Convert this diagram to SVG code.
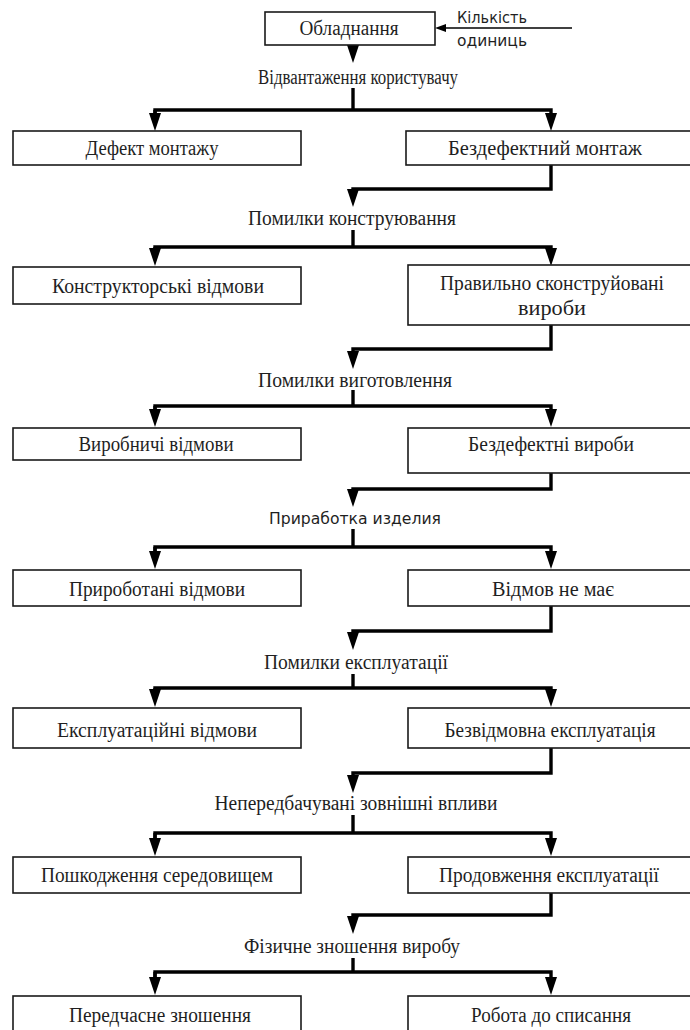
<svg xmlns="http://www.w3.org/2000/svg" width="690" height="1030" viewBox="0 0 690 1030">
<style>
.box{fill:#fff;stroke:#1a1a1a;stroke-width:1.6}
.t{font-family:"Liberation Serif","Times New Roman",serif;font-size:20.5px;fill:#1f1f1f;text-anchor:middle}
.s{font-family:"DejaVu Sans","Liberation Sans",sans-serif;font-size:15px;fill:#1f1f1f}
.c{fill:none;stroke:#000;stroke-width:3.4;stroke-linejoin:miter}
.thin{fill:none;stroke:#000;stroke-width:1.5}
</style>
<defs>
<marker id="ah" markerUnits="userSpaceOnUse" markerWidth="18" markerHeight="12" refX="8" refY="6" orient="auto">
<path d="M0,0 L18,6 L0,12 z" fill="#000"/>
</marker>
<marker id="ahs" markerUnits="userSpaceOnUse" markerWidth="11" markerHeight="8" refX="5" refY="4" orient="auto">
<path d="M0,0 L11,4 L0,8 z" fill="#000"/>
</marker>
</defs>
<rect width="690" height="1030" fill="#fff"/>

<g id="connectors">
<line class="thin" x1="572" y1="28" x2="441" y2="28" marker-end="url(#ahs)"/>
<line class="c" x1="353" y1="45" x2="353" y2="53" marker-end="url(#ah)"/>
<line class="c" x1="353" y1="88" x2="353" y2="110"/>
<polyline class="c" points="155,121 155,110 551,110 551,121" marker-end="url(#ah)"/>
<line class="c" x1="155" y1="110" x2="155" y2="121" marker-end="url(#ah)"/>
<polyline class="c" points="551,165 551,189 353,189 353,197" marker-end="url(#ah)"/>
<line class="c" x1="353" y1="230" x2="353" y2="247"/>
<polyline class="c" points="155,256 155,247 551,247 551,256" marker-end="url(#ah)"/>
<line class="c" x1="155" y1="247" x2="155" y2="256" marker-end="url(#ah)"/>
<polyline class="c" points="551,325 551,349 353,349 353,359" marker-end="url(#ah)"/>
<line class="c" x1="353" y1="390" x2="353" y2="406"/>
<polyline class="c" points="155,417 155,406 551,406 551,417" marker-end="url(#ah)"/>
<line class="c" x1="155" y1="406" x2="155" y2="417" marker-end="url(#ah)"/>
<polyline class="c" points="551,473 551,489 353,489 353,497" marker-end="url(#ah)"/>
<line class="c" x1="353" y1="529" x2="353" y2="547"/>
<polyline class="c" points="155,559 155,547 551,547 551,559" marker-end="url(#ah)"/>
<line class="c" x1="155" y1="547" x2="155" y2="559" marker-end="url(#ah)"/>
<polyline class="c" points="551,606 551,631 353,631 353,640" marker-end="url(#ah)"/>
<line class="c" x1="353" y1="674" x2="353" y2="688"/>
<polyline class="c" points="155,697 155,688 551,688 551,697" marker-end="url(#ah)"/>
<line class="c" x1="155" y1="688" x2="155" y2="697" marker-end="url(#ah)"/>
<polyline class="c" points="551,748 551,773 353,773 353,783" marker-end="url(#ah)"/>
<line class="c" x1="353" y1="815" x2="353" y2="833"/>
<polyline class="c" points="155,846 155,833 551,833 551,846" marker-end="url(#ah)"/>
<line class="c" x1="155" y1="833" x2="155" y2="846" marker-end="url(#ah)"/>
<polyline class="c" points="551,893 551,915 353,915 353,924" marker-end="url(#ah)"/>
<line class="c" x1="353" y1="958" x2="353" y2="972"/>
<polyline class="c" points="155,985 155,972 551,972 551,985" marker-end="url(#ah)"/>
<line class="c" x1="155" y1="972" x2="155" y2="985" marker-end="url(#ah)"/>
</g>

<g id="labels">
<text class="s" x="457" y="23" textLength="70" lengthAdjust="spacingAndGlyphs">Кількість</text>
<text class="s" x="457" y="46" textLength="70" lengthAdjust="spacingAndGlyphs">одиниць</text>
<text class="t" x="358" y="84" textLength="200" lengthAdjust="spacingAndGlyphs">Відвантаження користувачу</text>
<text class="t" x="352" y="225" textLength="208" lengthAdjust="spacingAndGlyphs">Помилки конструювання</text>
<text class="t" x="355" y="387" textLength="194" lengthAdjust="spacingAndGlyphs">Помилки виготовлення</text>
<text class="s" x="355" y="524" text-anchor="middle" font-size="16.5" textLength="172" lengthAdjust="spacingAndGlyphs">Приработка изделия</text>
<text class="t" x="356" y="669" textLength="184" lengthAdjust="spacingAndGlyphs">Помилки експлуатації</text>
<text class="t" x="356" y="810" textLength="283" lengthAdjust="spacingAndGlyphs">Непередбачувані  зовнішні впливи</text>
<text class="t" x="352" y="953" textLength="216" lengthAdjust="spacingAndGlyphs">Фізичне зношення виробу</text>
</g>

<g id="n0"><rect class="box" x="265" y="12" width="170" height="33"/><text class="t" x="349" y="35" textLength="99" lengthAdjust="spacingAndGlyphs">Обладнання</text></g>

<g id="n1a"><rect class="box" x="13" y="131" width="288" height="34"/><text class="t" x="152" y="155" textLength="133" lengthAdjust="spacingAndGlyphs">Дефект монтажу</text></g>
<g id="n1b"><rect class="box" x="406" y="131" width="292" height="34"/><text class="t" x="545" y="155" textLength="194" lengthAdjust="spacingAndGlyphs">Бездефектний  монтаж</text></g>

<g id="n2a"><rect class="box" x="13" y="267" width="288" height="37"/><text class="t" x="158" y="293" textLength="212" lengthAdjust="spacingAndGlyphs">Конструкторські відмови</text></g>
<g id="n2b"><rect class="box" x="408" y="265" width="290" height="60"/><text class="t" x="552" y="290" textLength="224" lengthAdjust="spacingAndGlyphs">Правильно сконструйовані</text><text class="t" x="552" y="315" textLength="68" lengthAdjust="spacingAndGlyphs">вироби</text></g>

<g id="n3a"><rect class="box" x="13" y="428" width="288" height="32"/><text class="t" x="156" y="451" textLength="155" lengthAdjust="spacingAndGlyphs">Виробничі відмови</text></g>
<g id="n3b"><rect class="box" x="408" y="428" width="290" height="45"/><text class="t" x="551" y="451" textLength="166" lengthAdjust="spacingAndGlyphs">Бездефектні вироби</text></g>

<g id="n4a"><rect class="box" x="13" y="570" width="288" height="36"/><text class="t" x="157" y="596" textLength="176" lengthAdjust="spacingAndGlyphs">Прироботані відмови</text></g>
<g id="n4b"><rect class="box" x="408" y="570" width="290" height="36"/><text class="t" x="553" y="596" textLength="122" lengthAdjust="spacingAndGlyphs">Відмов не має</text></g>

<g id="n5a"><rect class="box" x="13" y="708" width="288" height="40"/><text class="t" x="157" y="737" textLength="200" lengthAdjust="spacingAndGlyphs">Експлуатаційні відмови</text></g>
<g id="n5b"><rect class="box" x="408" y="708" width="290" height="40"/><text class="t" x="550" y="737" textLength="211" lengthAdjust="spacingAndGlyphs">Безвідмовна експлуатація</text></g>

<g id="n6a"><rect class="box" x="13" y="857" width="288" height="36"/><text class="t" x="157" y="882" textLength="232" lengthAdjust="spacingAndGlyphs">Пошкодження середовищем</text></g>
<g id="n6b"><rect class="box" x="408" y="857" width="290" height="36"/><text class="t" x="549" y="882" textLength="220" lengthAdjust="spacingAndGlyphs">Продовження експлуатації</text></g>

<g id="n7a"><rect class="box" x="13" y="996" width="288" height="40"/><text class="t" x="160" y="1022" textLength="182" lengthAdjust="spacingAndGlyphs">Передчасне  зношення</text></g>
<g id="n7b"><rect class="box" x="408" y="996" width="290" height="40"/><text class="t" x="551" y="1022" textLength="160" lengthAdjust="spacingAndGlyphs">Робота до списання</text></g>
</svg>
